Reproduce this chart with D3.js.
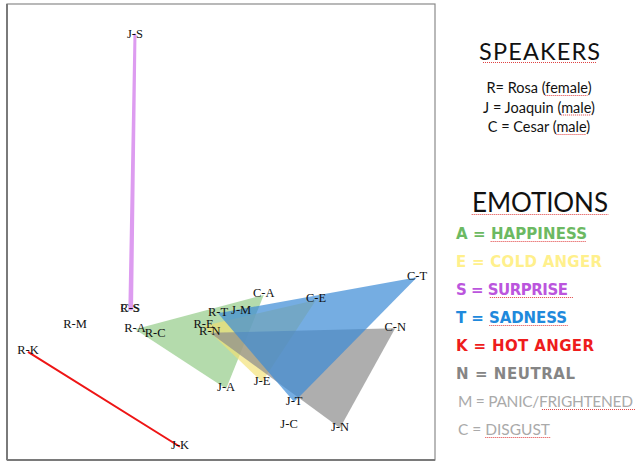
<!DOCTYPE html>
<html><head><meta charset="utf-8">
<script src="https://d3js.org/d3.v7.min.js"></script>
<style>body{margin:0;background:#fff}svg{display:block}</style>
</head><body>
<script>
// Point positions (arbitrary perceptual-map units, 0-100)
const pointNames = ["J-S","R-S","C-S","R-M","J-M","R-K","J-K","R-A","C-A","J-A","R-C","J-C","R-E","C-E","J-E","R-T","C-T","J-T","R-N","C-N","J-N"];
const pointX = [29.9,28.7,29.1,15.9,54.7,4.9,40.4,29.9,60.0,51.2,34.6,65.9,45.9,72.2,59.6,49.3,95.8,67.1,47.4,90.7,77.8];
const pointY = [93.2,33.1,33.1,29.6,32.5,23.7,2.9,28.7,36.2,15.6,27.6,7.5,29.4,35.1,17.1,32.2,40.1,12.7,27.9,28.9,7.0];
const hiddenLabels = ["C-S"];
// Emotion groups (shapes joining the three speakers)
const shapeEmotions = ["A","E","S","N","T","K"];
const shapeMembers = [["R-A","C-A","J-A"],["R-E","C-E","J-E"],["J-S","R-S","C-S"],["R-N","C-N","J-N"],["R-T","C-T","J-T"],["R-K","J-K"]];
const shapeColors = ["#69b85a","#f2e070","#dd9cf0","#8c8c8c","#3a8ad6","#ee1515"];
const shapeOpacity = [0.5,0.65,1,0.7,0.7,1];
// Legend
const speakerTitle = "SPEAKERS";
const speakerLines = ["R= Rosa (female)","J = Joaquin (male)","C = Cesar (male)"];
const speakerUnderlines = [["female"],["male"],["male"]];
const emotionTitle = "EMOTIONS";
const emotionLines = ["A = HAPPINESS","E = COLD ANGER","S = SURPRISE","T = SADNESS","K = HOT ANGER","N = NEUTRAL","M = PANIC/FRIGHTENED","C = DISGUST"];
const emotionColors = ["#6cb962","#fff08c","#bb55dd","#2089dc","#ee1c1c","#858585","#aaaaaa","#aaaaaa"];
const emotionBold = [true,true,true,true,true,true,false,false];
const emotionWidths = [131,146,112,111,138,119,175,92];
const emotionUnderlines = [["HAPPINESS"],[],["SURPRISE"],["SADNESS"],[],[],["FRIGHTENED"],["DISGUST"]];

const W=635,H=461;
const svg=d3.select("body").append("svg").attr("width",W).attr("height",H);
const box={l:7,r:435,t:4,b:460};
const x=d3.scaleLinear().domain([0,100]).range([box.l,box.r]);
const y=d3.scaleLinear().domain([0,100]).range([box.b,box.t]);
const pts={};
pointNames.forEach((n,i)=>pts[n]=[x(pointX[i]),y(pointY[i])]);

// frame
svg.append("rect").attr("x",box.l).attr("y",box.t).attr("width",box.r-box.l).attr("height",box.b-box.t)
  .attr("fill","none").attr("stroke","#8a8a8a").attr("stroke-width",1.2);
svg.append("line").attr("x1",box.l).attr("x2",box.l).attr("y1",box.t).attr("y2",box.b).attr("stroke","#7a7a7a").attr("stroke-width",2);
svg.append("line").attr("x1",box.l).attr("x2",box.r).attr("y1",box.b).attr("y2",box.b).attr("stroke","#7a7a7a").attr("stroke-width",2);

// shapes
shapeEmotions.forEach((e,i)=>{
  const p=shapeMembers[i].map(n=>pts[n]);
  const d="M"+p.map(q=>q.join(",")).join("L")+"Z";
  const path=svg.append("path").attr("d",d).attr("fill",shapeColors[i]).attr("fill-opacity",shapeOpacity[i]);
  if(e==="S"){path.attr("stroke",shapeColors[i]).attr("stroke-width",3).attr("stroke-linejoin","round");}
  if(e==="K"){path.attr("fill","none").attr("stroke",shapeColors[i]).attr("stroke-width",2);}
});

// labels
svg.append("g").selectAll("text").data(pointNames.filter(n=>!hiddenLabels.includes(n))).join("text")
  .attr("x",n=>pts[n][0]).attr("y",n=>pts[n][1]).attr("dy","0.2em")
  .attr("text-anchor","middle").attr("font-family","'Liberation Serif','Times New Roman',serif")
  .attr("font-size",12.5).attr("fill","#111").text(n=>n);
svg.append("text").attr("x",pts["C-S"][0]-1).attr("y",pts["C-S"][1]).attr("dy","0.2em").attr("text-anchor","middle")
  .attr("font-family","'Liberation Serif',serif").attr("font-size",12.5).attr("fill","#111").attr("opacity",0.8).text("C-S");

// legend helper
const lf="Lato,'Open Sans',sans-serif";
function squiggle(textSel, words){
  const node=textSel.node(); const s=node.textContent;
  const total=node.getComputedTextLength();
  const x0=+textSel.attr("x") - (textSel.attr("text-anchor")==="middle"? total/2:0);
  words.forEach(w=>{
    const idx=s.indexOf(w); if(idx<0)return;
    const a=idx>0?node.getSubStringLength(0,idx):0;
    const len=node.getSubStringLength(idx,w.length);
    const yy=+textSel.attr("y")+2.5;
    svg.append("line").attr("x1",x0+a).attr("x2",x0+a+len).attr("y1",yy).attr("y2",yy)
      .attr("stroke","#e04040").attr("stroke-width",1).attr("stroke-dasharray","1,1");
  });
}
const st=svg.append("text").attr("x",539.5).attr("y",60).attr("text-anchor","middle").attr("font-family",lf)
  .attr("font-size",23.5).attr("fill","#111").attr("textLength",121).text(speakerTitle);
squiggle(st,[speakerTitle]);
speakerLines.forEach((t,i)=>{
  const s=svg.append("text").attr("x",539).attr("y",93+i*19.5).attr("text-anchor","middle").attr("font-family",lf)
   .attr("font-size",14.5).attr("fill","#111").text(t);
  squiggle(s,speakerUnderlines[i]);
});
const et=svg.append("text").attr("x",540).attr("y",212).attr("text-anchor","middle").attr("font-family",lf)
  .attr("font-size",26).attr("fill","#111").attr("textLength",136).text(emotionTitle);
squiggle(et,[emotionTitle]);
emotionLines.forEach((t,i)=>{
  const s=svg.append("text").attr("x",emotionBold[i]?456:458).attr("y",239+i*28)
   .attr("font-family",emotionBold[i]?"'DejaVu Sans',sans-serif":lf)
   .attr("font-size",emotionBold[i]?15:15.5).attr("font-weight",emotionBold[i]?"bold":"normal").attr("fill",emotionColors[i])
   .attr("textLength",emotionWidths[i]).text(t);
  squiggle(s,emotionUnderlines[i]);
});
</script>
</body></html>
